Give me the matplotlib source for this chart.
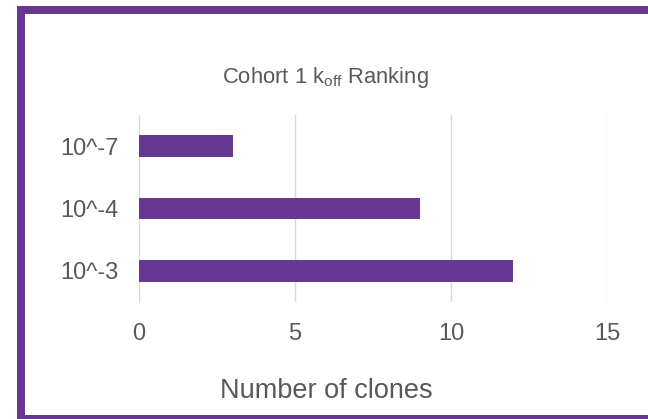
import matplotlib
matplotlib.use("Agg")
import matplotlib.pyplot as plt
from matplotlib.patches import Rectangle

categories = ["10^-3", "10^-4", "10^-7"]
values = [12, 9, 3]
xticks = [0, 5, 10, 15]

plt.rcParams['font.family'] = ['Liberation Sans', 'DejaVu Sans']
plt.rcParams['mathtext.fontset'] = 'custom'
plt.rcParams['mathtext.rm'] = 'Liberation Sans'
plt.rcParams['mathtext.it'] = 'Liberation Sans'

W, H = 648, 419
fig = plt.figure(figsize=(W/100, H/100), dpi=100)
purple = "#663894"
gray = "#595959"

ax = fig.add_axes([139/W, 1-302/H, 468/W, 187/H])
ax.barh(range(len(categories)), values, height=0.35, color=purple)
ax.set_ylim(-0.5, len(categories)-0.5)
ax.set_xlim(0, 15)
ax.set_xticks(xticks)
ax.set_yticks(range(len(categories)))
ax.set_yticklabels(categories)
ax.grid(axis='x', color='#d9d9d9', linewidth=1)
ax.set_axisbelow(True)
for s in ax.spines.values():
    s.set_visible(False)
ax.tick_params(axis='both', length=0, colors=gray, labelsize=17)
ax.tick_params(axis='y', pad=15)
ax.tick_params(axis='x', pad=15)

fig.text(325/W, 1-78/H, r"Cohort 1 k$_{\mathrm{off}}$ Ranking", ha='center', va='center',
         fontsize=15.8, color=gray)
fig.text(326/W, 1-391/H, "Number of clones", ha='center', va='center',
         fontsize=19.5, color=gray)

lw = 8 * 72 / 100
fig.patches.append(Rectangle((21/W, 0), 700/W, (H-10)/H, transform=fig.transFigure,
                             fill=False, edgecolor=purple, linewidth=lw))

fig.savefig("out.png", dpi=100)
